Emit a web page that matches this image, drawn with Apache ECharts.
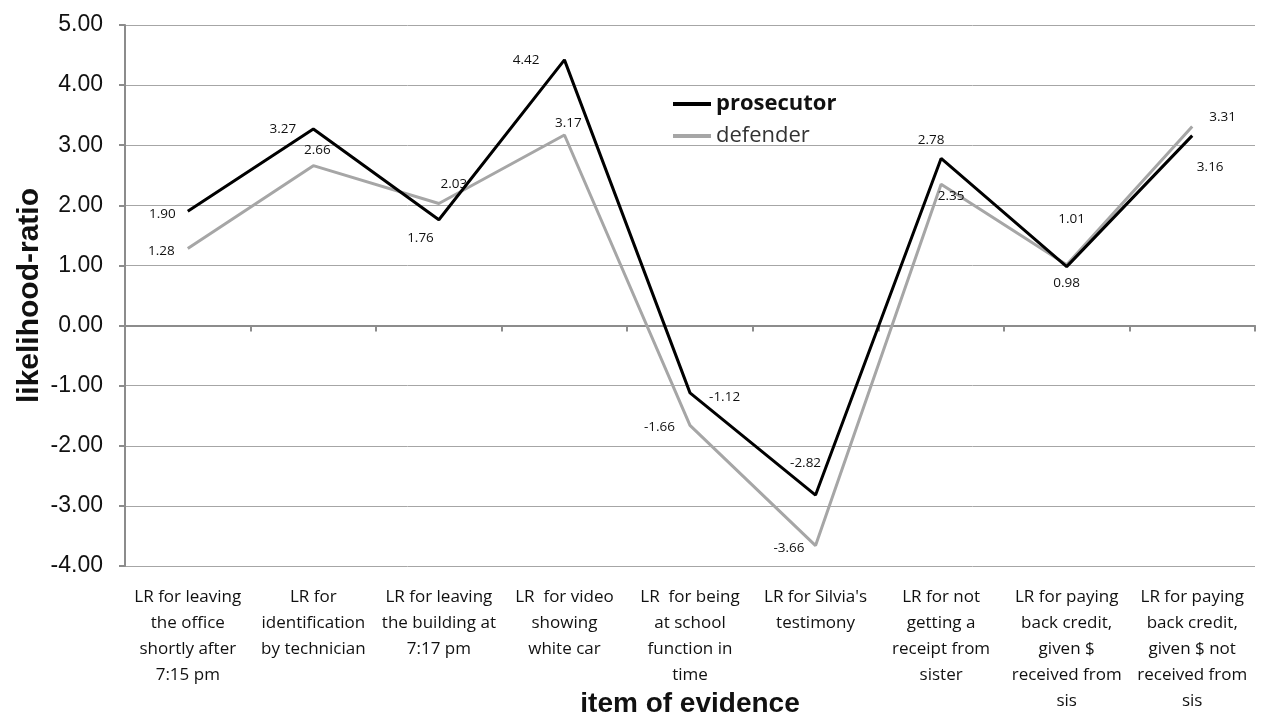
<!DOCTYPE html>
<html>
<head>
    <meta charset="utf-8">
    <title>likelihood-ratio</title>
    <script src="https://cdn.jsdelivr.net/npm/echarts@6/dist/echarts.min.js"></script>
</head>
<body style="margin:0">
<div id="main" style="width: 1267px;height:722px;"></div>
<script type="text/javascript">

    // data
    let items = [
        'LR for leaving\nthe office\nshortly after\n7:15 pm',
        'LR for\nidentification\nby technician',
        'LR for leaving\nthe building at\n7:17 pm',
        'LR  for video\nshowing\nwhite car',
        'LR  for being\nat school\nfunction in\ntime',
        "LR for Silvia's\ntestimony",
        'LR for not\ngetting a\nreceipt from\nsister',
        'LR for paying\nback credit,\ngiven $\nreceived from\nsis',
        'LR for paying\nback credit,\ngiven $ not\nreceived from\nsis'
    ];
    let prosecutor = [1.90, 3.27, 1.76, 4.42, -1.12, -2.82, 2.78, 0.98, 3.16];
    let defender = [1.28, 2.66, 2.03, 3.17, -1.66, -3.66, 2.35, 1.01, 3.31];
    let yTicks = [-4, -3, -2, -1, 0, 1, 2, 3, 4, 5];

    // where each value label sits
    let prosLabelPos = ['left', 'left', 'left', 'left', 'right', 'top', 'top', 'bottom', 'bottom'];
    let prosLabelOff = [[-7, 3], [-12, 0], [0, 18], [-20, 0], [14, 4], [-10, -20], [-10, -6], [0, 4], [18, 20]];
    let defLabelPos = ['left', 'top', 'top', 'top', 'left', 'left', 'bottom', 'top', 'right'];
    let defLabelOff = [[-8, 3], [4, -3], [15, -7], [4, 0], [-10, 2], [-6, 3], [10, 0], [5, -34], [12, -9]];

    function withLabels(values, pos, off) {
        return values.map(function (v, i) {
            return {value: v, label: {position: pos[i], offset: off[i]}};
        });
    }

    let gridColor = '#a6a6a6';
    let axisColor = '#8c8c8c';

    let valueLabel = {
        show: true, fontFamily: 'Open Sans', fontSize: 13.5, color: '#111',
        formatter: function (p) { return p.value.toFixed(2); }
    };

    let option = {
        animation: false,
        grid: {left: 125, right: 12, top: 25, bottom: 156, outerBoundsMode: 'none'},
        legend: {
            orient: 'vertical',
            left: 668,
            top: 88,
            itemGap: 10,
            itemWidth: 38,
            itemHeight: 4,
            icon: 'rect',
            textStyle: {fontFamily: 'Open Sans', fontSize: 22, color: '#111'},
            data: [
                {name: 'prosecutor', textStyle: {fontWeight: 'bold'}},
                {name: 'defender', textStyle: {color: '#333'}}
            ]
        },
        xAxis: [
            {
                type: 'category',
                data: items,
                axisLine: {onZero: true, lineStyle: {color: axisColor, width: 2}},
                axisTick: {show: true, length: 6, lineStyle: {color: axisColor, width: 2}},
                axisLabel: {show: false}
            },
            {
                type: 'category',
                data: items,
                position: 'bottom',
                axisLine: {show: false, onZero: false},
                axisTick: {show: false},
                axisLabel: {
                    interval: 0,
                    margin: 18,
                    fontFamily: 'Open Sans',
                    fontSize: 17,
                    lineHeight: 26,
                    color: '#111'
                },
                name: 'item of evidence',
                nameLocation: 'middle',
                nameGap: 124,
                nameMoveOverlap: false,
                nameTextStyle: {fontFamily: 'Liberation Sans', fontWeight: 'bold', fontSize: 28, color: '#111'}
            }
        ],
        yAxis: {
            type: 'value',
            min: yTicks[0],
            max: yTicks[yTicks.length - 1],
            interval: 1,
            axisLine: {show: true, lineStyle: {color: axisColor, width: 2}},
            axisTick: {show: true, length: 6, lineStyle: {color: axisColor, width: 2}},
            splitLine: {lineStyle: {color: gridColor, width: 1}},
            axisLabel: {
                margin: 22,
                fontFamily: 'Liberation Sans',
                fontSize: 23,
                color: '#111',
                formatter: function (v) { return v.toFixed(2); }
            },
            name: 'likelihood-ratio',
            nameLocation: 'middle',
            nameGap: 80,
            nameMoveOverlap: false,
            nameTextStyle: {fontFamily: 'Liberation Sans', fontWeight: 'bold', fontSize: 30, color: '#111'}
        },
        series: [
            {
                name: 'prosecutor',
                type: 'line',
                symbol: 'circle',
                symbolSize: 0.1,
                showSymbol: true,
                lineStyle: {color: '#000', width: 3},
                itemStyle: {color: '#000'},
                label: valueLabel,
                z: 3,
                data: withLabels(prosecutor, prosLabelPos, prosLabelOff)
            },
            {
                name: 'defender',
                type: 'line',
                symbol: 'circle',
                symbolSize: 0.1,
                showSymbol: true,
                lineStyle: {color: '#a6a6a6', width: 3},
                itemStyle: {color: '#a6a6a6'},
                label: valueLabel,
                z: 2,
                data: withLabels(defender, defLabelPos, defLabelOff)
            }
        ]
    };

    let myChart = echarts.init(document.getElementById('main'));
    myChart.setOption(option);
</script>
</body>
</html>
